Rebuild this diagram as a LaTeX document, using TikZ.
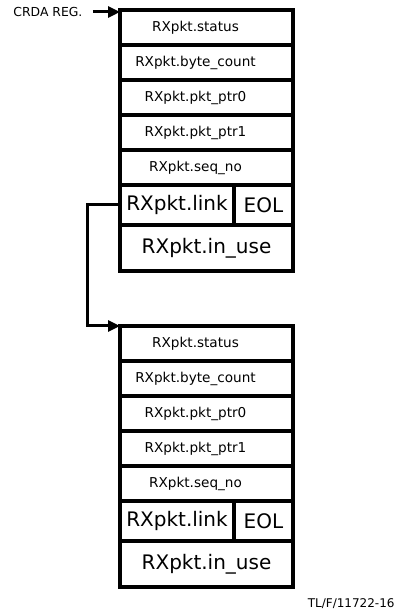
\documentclass[tikz,border=0pt]{standalone}
\usepackage{fontspec}
\setmainfont{DejaVu Sans}
\usetikzlibrary{positioning,arrows.meta}

\begin{document}
\begin{tikzpicture}[x=0.5pt, y=-0.5pt,
  cell/.style = {draw, line width=1.6pt, outer sep=0pt, inner sep=0pt, minimum width=86.5pt, minimum height=17.5pt, font=\fontsize{6.8}{8}\selectfont, execute at begin node=\hspace*{-11pt}},
  big/.style = {draw, line width=1.6pt, outer sep=0pt, inner sep=0pt, minimum height=20pt, font=\fontsize{10}{12}\selectfont},
  frame/.style = {line width=2.25pt},
  ptr/.style = {line width=1.5pt, -{Triangle[length=6pt, width=5.5pt]}}]
\useasboundingbox (0,0) rectangle (401,613);
\node[anchor=west, inner sep=0pt, font=\fontsize{6.2}{7}\selectfont] (crda) at (13,12) {CRDA REG.};
% first packet
\node[cell, anchor=north west] (s1) at (120,10) {RXpkt.status};
\node[cell, below=0pt of s1] (b1) {RXpkt.byte\_count};
\node[cell, below=0pt of b1] (p1) {RXpkt.pkt\_ptr0};
\node[cell, below=0pt of p1] (q1) {RXpkt.pkt\_ptr1};
\node[cell, below=0pt of q1] (n1) {RXpkt.seq\_no};
\node[big, minimum width=57pt, anchor=north west] (l1) at (n1.south west) {RXpkt.link};
\node[big, minimum width=29.5pt, right=0pt of l1] (e1) {EOL};
\node[big, minimum width=86.5pt, minimum height=23pt, anchor=north west] (u1) at (l1.south west) {RXpkt.in\_use};
\draw[frame] (s1.north west) rectangle (u1.south east);
% second packet
\node[cell, anchor=north west] (s2) at (120,326) {RXpkt.status};
\node[cell, below=0pt of s2] (b2) {RXpkt.byte\_count};
\node[cell, below=0pt of b2] (p2) {RXpkt.pkt\_ptr0};
\node[cell, below=0pt of p2] (q2) {RXpkt.pkt\_ptr1};
\node[cell, below=0pt of q2] (n2) {RXpkt.seq\_no};
\node[big, minimum width=57pt, anchor=north west] (l2) at (n2.south west) {RXpkt.link};
\node[big, minimum width=29.5pt, right=0pt of l2] (e2) {EOL};
\node[big, minimum width=86.5pt, minimum height=23pt, anchor=north west] (u2) at (l2.south west) {RXpkt.in\_use};
\draw[frame] (s2.north west) rectangle (u2.south east);
\draw[ptr] ([xshift=5pt]crda.east) -- (crda.east -| s1.north west);
\draw[ptr] (l1.west) -- ++(-33,0) |- (s2.north west);
\node[anchor=east, inner sep=0pt, font=\fontsize{6}{7}\selectfont] (fig) at (395,604) {TL/F/11722-16};
\end{tikzpicture}
\end{document}
